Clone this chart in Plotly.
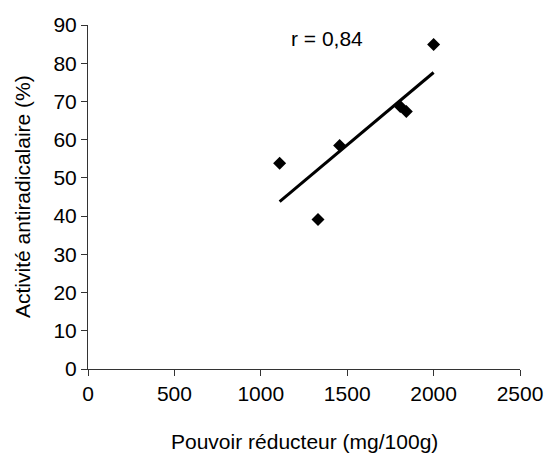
import numpy as np
import plotly.graph_objects as go

# Data
pouvoir_reducteur = [1109, 1331, 1456, 1807, 1842, 2000]
activite_antiradicalaire = [53.8, 39.1, 58.5, 68.7, 67.4, 84.9]
x_ticks = [0, 500, 1000, 1500, 2000, 2500]
y_ticks = [0, 10, 20, 30, 40, 50, 60, 70, 80, 90]
r_label = "r = 0,84"

# linear trend line (fitted from data)
slope, intercept = np.polyfit(pouvoir_reducteur, activite_antiradicalaire, 1)
trend_x = [min(pouvoir_reducteur), max(pouvoir_reducteur)]
trend_y = [slope * v + intercept for v in trend_x]

FONT = "Liberation Sans, Arial, sans-serif"
FS = 21

fig = go.Figure()
fig.add_trace(go.Scatter(
    x=trend_x, y=trend_y, mode="lines",
    line=dict(color="black", width=3),
    hoverinfo="skip", showlegend=False,
))
fig.add_trace(go.Scatter(
    x=pouvoir_reducteur, y=activite_antiradicalaire, mode="markers",
    marker=dict(symbol="diamond", size=10, color="black", line=dict(width=0)),
    showlegend=False,
))

fig.add_annotation(x=1383, y=86.4, xref="x", yref="y", text=r_label,
                   showarrow=False, font=dict(family=FONT, size=FS, color="black"))

# Axis titles as annotations for precise placement
fig.add_annotation(x=0.5, y=0, xref="paper", yref="paper", yshift=-72,
                   text="Pouvoir réducteur (mg/100g)", showarrow=False,
                   yanchor="middle",
                   font=dict(family=FONT, size=FS, color="black"))
fig.add_annotation(x=0, y=0.5, xref="paper", yref="paper", xshift=-66,
                   text="Activité antiradicalaire (%)", showarrow=False,
                   textangle=-90, xanchor="center",
                   font=dict(family=FONT, size=FS, color="black"))

fig.update_xaxes(
    range=[0, 2500], tickvals=x_ticks, ticktext=[str(v) for v in x_ticks],
    showgrid=False, zeroline=False, showline=True, linecolor="#333333", linewidth=1,
    ticks="outside", ticklen=6, tickcolor="#333333", tickwidth=1, automargin=False,
    tickfont=dict(family=FONT, size=FS, color="black"), fixedrange=True,
)
fig.update_yaxes(
    range=[0, 90], tickvals=y_ticks, ticktext=[str(v) for v in y_ticks],
    showgrid=False, zeroline=False, showline=True, linecolor="#333333", linewidth=1,
    ticks="outside", ticklen=6, tickcolor="#333333", tickwidth=1, automargin=False,
    tickfont=dict(family=FONT, size=FS, color="black"), fixedrange=True,
)

fig.update_layout(
    width=544, height=455,
    margin=dict(l=88, r=24, t=25, b=86, pad=0),
    plot_bgcolor="white", paper_bgcolor="white",
    font=dict(family=FONT, size=FS, color="black"),
)

fig.write_html("out.html")
